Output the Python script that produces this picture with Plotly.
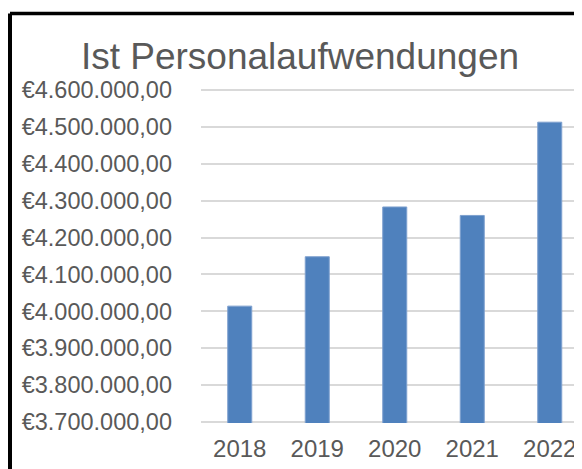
import plotly.graph_objects as go

years = ["2018", "2019", "2020", "2021", "2022"]
values = [4014000, 4148000, 4283000, 4260000, 4513000]
tick_vals = [3700000, 3800000, 3900000, 4000000, 4100000, 4200000, 4300000, 4400000, 4500000, 4600000]
tick_text = ["€3.700.000,00", "€3.800.000,00", "€3.900.000,00", "€4.000.000,00", "€4.100.000,00",
             "€4.200.000,00", "€4.300.000,00", "€4.400.000,00", "€4.500.000,00", "€4.600.000,00"]
title_text = "Ist Personalaufwendungen"

W, H = 582, 469
OFF = 8  # default page body margin
ML, MR, MT, MB = 201 - OFF, 0, 89 - OFF, H - (423 - OFF)
PW = W - ML - MR
PH = H - MT - MB

def px_x(px):
    return (px - OFF - ML) / PW

def px_y(py):
    return (H - MB - (py - OFF)) / PH

fig = go.Figure()
fig.add_trace(go.Bar(
    x=years, y=values,
    marker=dict(color="#4f81bd", line=dict(color="#7ea0cf", width=1)),
    width=0.31,
))

fig.update_layout(
    width=W, height=H,
    margin=dict(l=ML, r=MR, t=MT, b=MB),
    paper_bgcolor="white", plot_bgcolor="white",
    font=dict(family="Liberation Sans, Arial, sans-serif", color="#595959"),
    showlegend=False,
    title=dict(text=title_text, x=(300 - OFF) / W, xref="container", xanchor="center",
               y=1 - (56 - OFF) / H, yref="container", yanchor="middle",
               font=dict(size=37, color="#595959")),
    xaxis=dict(type="category", range=[-0.5, -0.5 + PW / 77.5], showgrid=False,
               showline=False, ticks="", tickfont=dict(size=24), ticklabelstandoff=9),
    yaxis=dict(range=[3697000, 4603000], tickvals=tick_vals, ticktext=tick_text,
               showgrid=True, gridcolor="#d9d9d9", gridwidth=2, zeroline=False,
               showline=False, ticks="", tickfont=dict(size=23.5), ticklabelstandoff=28),
    shapes=[
        dict(type="line", xref="paper", yref="paper", x0=px_x(10), x1=px_x(700),
             y0=px_y(13.5), y1=px_y(13.5), line=dict(color="black", width=3.5)),
        dict(type="line", xref="paper", yref="paper", x0=px_x(10), x1=px_x(10),
             y0=px_y(13.5), y1=px_y(600), line=dict(color="black", width=4)),
    ],
)

fig.write_html("out.html")
